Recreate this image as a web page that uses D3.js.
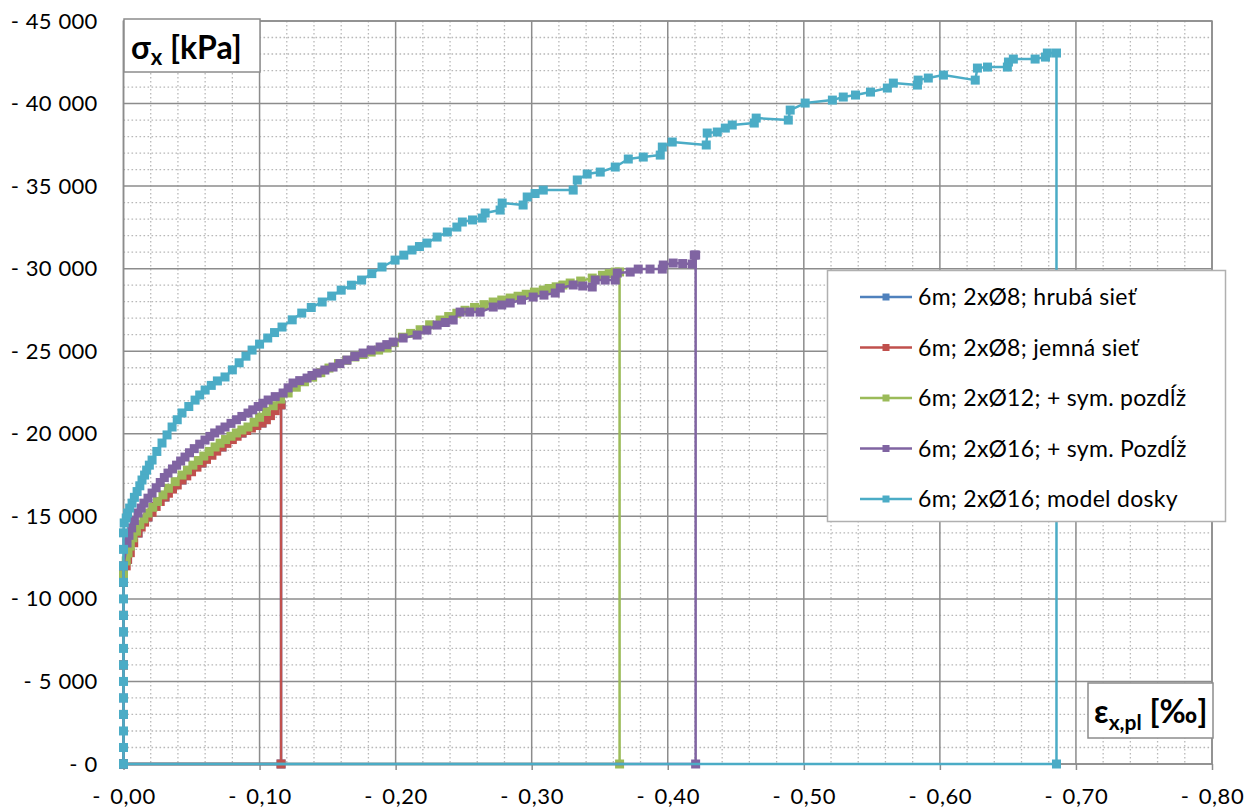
<!DOCTYPE html>
<html><head><meta charset="utf-8">
<script src="https://cdn.jsdelivr.net/npm/d3@7"></script>
<style>
html,body{margin:0;padding:0;background:#fff;}
svg{display:block;font-family:Lato,"Open Sans",sans-serif;}
</style></head>
<body><svg id="c" width="1249" height="812"></svg>
<script>
// ---------- data (x = strain ‰, shown as "- value"; y = stress kPa, shown as "- value") ----------
const seriesNames = ["6m; 2xØ8; hrubá sieť","6m; 2xØ8; jemná sieť","6m; 2xØ12; + sym. pozdĺž","6m; 2xØ16; + sym. Pozdĺž","6m; 2xØ16; model dosky"];
const seriesColors = ["#4F81BD","#C0504D","#9BBB59","#8064A2","#4BACC6"];
const xTicks = [0,0.1,0.2,0.3,0.4,0.5,0.6,0.7,0.8];
const yTicks = [0,5000,10000,15000,20000,25000,30000,35000,40000,45000];

const redData = [[0,0],[0,3000],[0,6000],[0,9000],[0,11000],[0.002,12000],[0.003,12400],[0.005,12800],[0.0075,13400],[0.0107,13990],[0.013,14350],[0.0155,14650],[0.018,14960],[0.021,15250],[0.024,15600],[0.027,15900],[0.0305,16170],[0.033,16400],[0.036,16650],[0.0395,16900],[0.043,17200],[0.0465,17450],[0.050,17700],[0.054,17980],[0.0577,18230],[0.061,18450],[0.065,18700],[0.0685,18950],[0.0724,19200],[0.076,19420],[0.080,19650],[0.0835,19850],[0.0871,20045],[0.0905,20200],[0.094,20350],[0.098,20500],[0.1018,20650],[0.105,20850],[0.108,21100],[0.1115,21400],[0.1158,21750],[0.1158,0],[0,0]];
const blueData = [[0,0],[0,4000],[0,8000],[0,11000],[0.003,12400],[0.0107,13990],[0.018,14960],[0.0305,16170],[0.043,17200],[0.0577,18230],[0.0724,19200],[0.0871,20045],[0.1018,20650],[0.1158,21750],[0.1158,0],[0,0]];
const greenData = [[0,0],[0,3000],[0,6000],[0,9000],[0,11500],[0.002,12300],[0.0033,12780],[0.005,13200],[0.007,13700],[0.0095,14100],[0.012,14500],[0.015,14850],[0.018,15200],[0.0215,15550],[0.025,15900],[0.029,16300],[0.033,16700],[0.038,17100],[0.043,17500],[0.047,17800],[0.051,18100],[0.055,18380],[0.059,18650],[0.063,18930],[0.0673,19200],[0.071,19430],[0.075,19650],[0.079,19850],[0.083,20050],[0.087,20230],[0.0915,20410],[0.096,20700],[0.100,21000],[0.105,21350],[0.110,21700],[0.1155,22100],[0.121,22470],[0.127,22820],[0.133,23150],[0.139,23430],[0.145,23700],[0.151,23980],[0.158,24250],[0.164,24450],[0.170,24650],[0.176,24800],[0.182,24950],[0.1875,25070],[0.1937,25195],[0.199,25520],[0.205,25850],[0.211,26080],[0.218,26300],[0.225,26600],[0.2327,26890],[0.239,27100],[0.245,27300],[0.251,27480],[0.258,27650],[0.265,27820],[0.2717,27980],[0.278,28100],[0.2842,28220],[0.290,28330],[0.296,28450],[0.302,28580],[0.3085,28705],[0.313,28800],[0.318,28900],[0.323,29010],[0.3283,29130],[0.336,29250],[0.3445,29430],[0.352,29600],[0.357,29700],[0.3614,29795],[0.3646,29800],[0.3646,0],[0,0]];
const purpleData = [[0,0],[0,3000],[0,6000],[0,9000],[0,12000],[0.0026,13385],[0.004,13850],[0.006,14300],[0.008,14750],[0.0107,15200],[0.013,15500],[0.015,15800],[0.018,16100],[0.021,16410],[0.024,16730],[0.027,17050],[0.030,17350],[0.0327,17620],[0.036,17870],[0.039,18100],[0.042,18350],[0.0452,18590],[0.0485,18850],[0.052,19100],[0.056,19370],[0.0599,19620],[0.0635,19840],[0.067,20050],[0.071,20230],[0.0746,20410],[0.079,20630],[0.083,20850],[0.087,21050],[0.0915,21255],[0.095,21450],[0.099,21650],[0.1025,21850],[0.1063,22045],[0.1115,22250],[0.1173,22470],[0.121,22780],[0.1246,23075],[0.1295,23220],[0.1349,23375],[0.1385,23530],[0.1423,23680],[0.148,23860],[0.154,24040],[0.159,24250],[0.1643,24465],[0.170,24680],[0.1761,24890],[0.182,25070],[0.1886,25255],[0.1935,25400],[0.1982,25555],[0.2055,25800],[0.2158,25980],[0.223,26280],[0.2305,26585],[0.2365,26740],[0.2423,26890],[0.2474,27370],[0.2545,27370],[0.2621,27370],[0.2717,27675],[0.278,27800],[0.2842,27920],[0.2925,28100],[0.3011,28280],[0.309,28400],[0.3173,28525],[0.321,28825],[0.3305,29010],[0.3375,28950],[0.3445,28890],[0.3467,29310],[0.354,29310],[0.3614,29310],[0.3629,29735],[0.3724,29795],[0.3783,29975],[0.387,29975],[0.396,29975],[0.3967,30220],[0.404,30340],[0.411,30310],[0.418,30280],[0.4195,30825],[0.4205,30825],[0.4205,0],[0,0]];
const cyanData = [[0,0],[0,1000],[0,2000],[0,3000],[0,4000],[0,5000],[0,6000],[0,7000],[0,8000],[0,9000],[0,10000],[0,11000],[0,12000],[0,13000],[0,14000],[0.0005,14600],[0.002,14900],[0.003,15200],[0.0045,15500],[0.0063,15800],[0.008,16150],[0.010,16500],[0.012,16850],[0.0136,17200],[0.0155,17500],[0.017,17800],[0.019,18100],[0.021,18410],[0.0245,18930],[0.0283,19440],[0.032,19930],[0.0357,20410],[0.0395,20850],[0.043,21260],[0.048,21650],[0.0526,22040],[0.056,22350],[0.060,22650],[0.0645,22930],[0.069,23200],[0.0746,23440],[0.080,23870],[0.085,24300],[0.090,24700],[0.0945,25070],[0.100,25430],[0.106,25800],[0.111,26130],[0.1165,26465],[0.124,26900],[0.131,27310],[0.138,27650],[0.146,27980],[0.153,28340],[0.160,28700],[0.1675,29000],[0.175,29310],[0.1825,29700],[0.190,30100],[0.1996,30520],[0.206,30820],[0.212,31130],[0.2175,31340],[0.223,31550],[0.2305,31915],[0.238,32220],[0.245,32520],[0.249,32825],[0.2565,32950],[0.2636,33065],[0.2658,33370],[0.2768,33550],[0.2783,33975],[0.2937,33855],[0.2967,34340],[0.3025,34550],[0.3085,34760],[0.3305,34760],[0.3335,35370],[0.3408,35730],[0.3504,35850],[0.3614,36155],[0.371,36640],[0.382,36760],[0.3945,36880],[0.396,37365],[0.4033,37670],[0.4283,37490],[0.429,38215],[0.4364,38275],[0.4423,38515],[0.4474,38700],[0.4636,38820],[0.465,39120],[0.4886,39000],[0.490,39605],[0.501,40030],[0.521,40210],[0.529,40395],[0.538,40515],[0.549,40695],[0.5614,40940],[0.5658,41240],[0.5835,41120],[0.584,41420],[0.5915,41545],[0.6026,41725],[0.626,41420],[0.6276,42150],[0.635,42210],[0.6496,42210],[0.6504,42515],[0.654,42695],[0.670,42695],[0.6776,42815],[0.679,43060],[0.6857,43060],[0.6857,0],[0,0]];
const allData = [blueData, redData, greenData, purpleData, cyanData];

// ---------- layout ----------
const svg = d3.select("#c");
const L = 123.5, R = 1212, T = 21, B = 764;
const x = d3.scaleLinear().domain([0,0.8]).range([L,R]);
const y = d3.scaleLinear().domain([0,45000]).range([B,T]);

// minor grid
const g = svg.append("g");
const xMinor = d3.range(0,0.8001,0.02).filter(v => Math.abs(v*10-Math.round(v*10))>1e-6);
const yMinor = d3.range(0,45001,1000).filter(v => v%5000!==0);
g.selectAll(".xm").data(xMinor).join("line")
 .attr("x1",d=>x(d)).attr("x2",d=>x(d)).attr("y1",T).attr("y2",B)
 .attr("stroke","#b8b8b8").attr("stroke-width",1.3).attr("stroke-dasharray","1.6,2.4");
g.selectAll(".ym").data(yMinor).join("line")
 .attr("x1",L).attr("x2",R).attr("y1",d=>y(d)).attr("y2",d=>y(d))
 .attr("stroke","#b8b8b8").attr("stroke-width",1.3).attr("stroke-dasharray","1.6,2.4");
// major grid
g.selectAll(".xM").data(xTicks).join("line")
 .attr("x1",d=>x(d)).attr("x2",d=>x(d)).attr("y1",T).attr("y2",B)
 .attr("stroke","#8c8c8c").attr("stroke-width",1.5);
g.selectAll(".yM").data(yTicks).join("line")
 .attr("x1",L).attr("x2",R).attr("y1",d=>y(d)).attr("y2",d=>y(d))
 .attr("stroke","#8c8c8c").attr("stroke-width",1.5);
svg.append("rect").attr("x",L).attr("y",T).attr("width",R-L).attr("height",B-T)
 .attr("fill","none").attr("stroke","#8c8c8c").attr("stroke-width",1.5);

// axes
const fmtY = d => "- " + (d===0 ? "0" : d3.format(",")(d).replace(/,/g," "));
const fmtX = d => "- " + d.toFixed(2).replace(".",",");
const xAxis = svg.append("g").attr("transform",`translate(0,${B})`)
 .call(d3.axisBottom(x).tickValues(xTicks).tickFormat(fmtX).tickSize(6).tickPadding(18));
xAxis.select(".domain").remove();
xAxis.selectAll("line").attr("stroke","#8c8c8c").attr("stroke-width",1.5);
xAxis.selectAll("text").attr("font-size",22).attr("fill","#000").attr("font-family","Lato")
 .attr("letter-spacing","0.6px").attr("word-spacing","3px");
const yAxis = svg.append("g").attr("transform",`translate(${L},0)`)
 .call(d3.axisLeft(y).tickValues(yTicks).tickFormat(fmtY).tickSize(0).tickPadding(26));
yAxis.select(".domain").remove();
yAxis.selectAll("text").attr("font-size",22).attr("fill","#000").attr("font-family","Lato")
 .attr("letter-spacing","0.2px").attr("word-spacing","1px");

// series
const line = d3.line().x(d=>x(d[0])).y(d=>y(d[1]));
allData.forEach((data,i)=>{
  const s = svg.append("g");
  s.append("path").attr("d",line(data)).attr("fill","none")
   .attr("stroke",seriesColors[i]).attr("stroke-width",2.5).attr("stroke-linejoin","round");
  s.selectAll("rect").data(data).join("rect")
   .attr("x",d=>x(d[0])-4.5).attr("y",d=>y(d[1])-4.5).attr("width",9).attr("height",9)
   .attr("fill",seriesColors[i]);
});

// axis title boxes
const t1 = svg.append("g");
t1.append("rect").attr("x",124).attr("y",19).attr("width",136).attr("height",53)
 .attr("fill","#fff").attr("stroke","#8c8c8c").attr("stroke-width",1.5);
const tt1 = t1.append("text").attr("x",131).attr("y",59).attr("font-size",32).attr("font-weight","bold").attr("font-family","Lato");
tt1.append("tspan").text("σ");
tt1.append("tspan").attr("font-size",22).attr("dy",6).text("x");
tt1.append("tspan").attr("dy",-6).text(" [kPa]");

const t2 = svg.append("g");
t2.append("rect").attr("x",1088).attr("y",683).attr("width",125).attr("height",55)
 .attr("fill","#fff").attr("stroke","#8c8c8c").attr("stroke-width",1.5);
const tt2 = t2.append("text").attr("x",1094).attr("y",723).attr("font-size",32).attr("font-weight","bold").attr("font-family","Lato");
tt2.append("tspan").text("ε");
tt2.append("tspan").attr("font-size",21).attr("dy",7).text("x,pl");
tt2.append("tspan").attr("dy",-7).text(" [‰]");

// legend
const lg = svg.append("g");
lg.append("rect").attr("x",827.5).attr("y",270.5).attr("width",398).attr("height",251)
 .attr("fill","#fff").attr("stroke","#b0b0b0").attr("stroke-width",1.5);
seriesNames.forEach((n,i)=>{
  const yy = 297 + i*50.5;
  lg.append("line").attr("x1",860).attr("x2",912).attr("y1",yy).attr("y2",yy)
   .attr("stroke",seriesColors[i]).attr("stroke-width",2.5);
  lg.append("rect").attr("x",882.5).attr("y",yy-3.5).attr("width",7).attr("height",7).attr("fill",seriesColors[i]);
  lg.append("text").attr("x",918).attr("y",yy+8).attr("font-size",23).attr("font-family","Lato")
   .attr("letter-spacing","0.3px").text(n);
});
</script></body></html>
